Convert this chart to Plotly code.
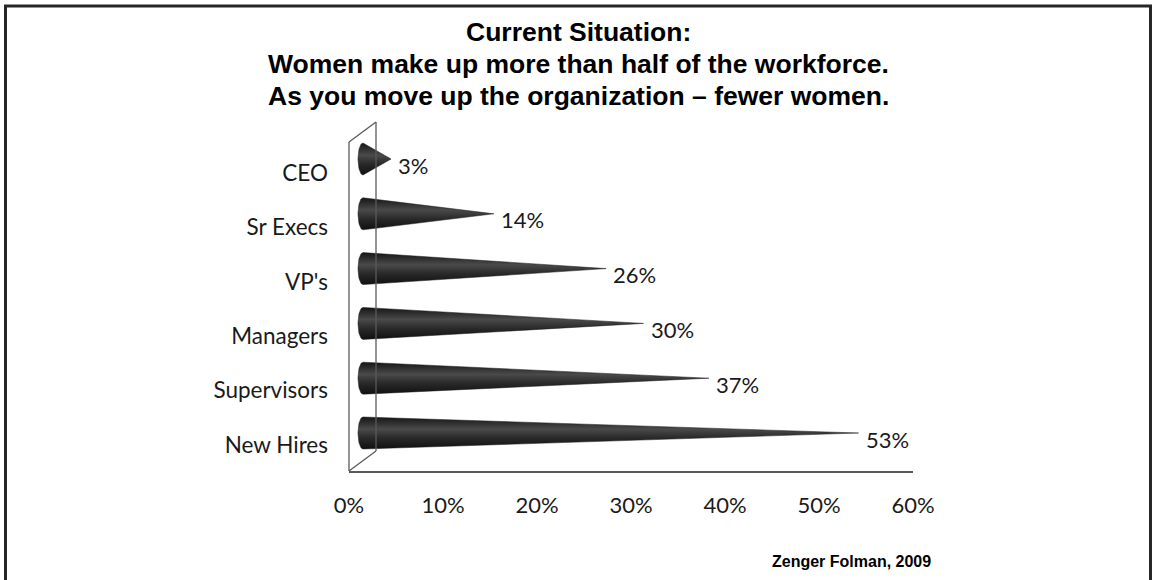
import numpy as np
import plotly.graph_objects as go

# ---------------- data ----------------
categories = ["New Hires", "Supervisors", "Managers", "VP's", "Sr Execs", "CEO"]
values = [53, 37, 30, 26, 14, 3]
x_ticks = [0, 10, 20, 30, 40, 50, 60]
x_tick_labels = ["0%", "10%", "20%", "30%", "40%", "50%", "60%"]
title_lines = [
    "Current Situation:",
    "Women make up more than half of the workforce.",
    "As you move up the organization \u2013 fewer women.",
]
source_text = "Zenger Folman, 2009"

# ---------------- layout geometry (pixels) ----------------
W, H = 1152, 580
PL, PR, PT, PB = 349, 913, 122, 471      # plot area
DX, DY = 27, 20                          # 3D depth offset


def px(x):
    return (x - PL) / (PR - PL)


def py(y):
    return (PB - y) / (PB - PT)


# cone axis (mid-depth): 0 at 363px, 9.35 px per unit
c0, cs = 363.0, 9.35
x2_range = [(PL - c0) / cs, (PR - c0) / cs]
# cone centres: index 0 at 433px, 54.8px per category
yc0, ycs = 433.0, 54.8
y2_range = [(yc0 - PB) / ycs, (yc0 - PT) / ycs]
# label axis (front plane): index 0 at 445px, 54.4 px per category
yl0, yls = 445.0, 54.4
y_range = [(yl0 - PB) / yls, (yl0 - PT) / yls]

half_h = 16 / ycs
rx = 5 / cs

fig = go.Figure()

# invisible trace to create category axis
fig.add_trace(go.Scatter(x=[0] * len(categories), y=categories, mode="markers",
                         marker=dict(opacity=0), hoverinfo="skip", showlegend=False))

t = np.linspace(0, np.pi, 30)
for i, (cat, v) in enumerate(zip(categories, values)):
    xs = [0, v, 0] + list(-rx * np.sin(t))
    ys = [i + half_h, i, i - half_h] + list(i - half_h * np.cos(t))
    fig.add_trace(go.Scatter(
        x=xs, y=ys, xaxis="x2", yaxis="y2", mode="lines",
        line=dict(width=0.5, color="#1a1a1a"),
        fill="toself",
        fillgradient=dict(type="vertical",
                          colorscale=[[0, "#101010"], [0.35, "#2a2a2a"],
                                      [0.62, "#4a4a4a"], [0.85, "#2a2a2a"], [1, "#151515"]]),
        hoverinfo="skip", showlegend=False))
    fig.add_annotation(x=v, y=i, xref="x2", yref="y2", text=f"{v}%",
                       showarrow=False, xanchor="left", yanchor="middle",
                       xshift=5, yshift=-6,
                       font=dict(family="Lato", size=22, color="#1a1a1a"))

shapes = []
wall_col = "#5a5a5a"
segs = [
    ((PL, PB), (PL, PT + DY)),
    ((PL, PT + DY), (PL + DX, PT)),
    ((PL + DX, PT), (PL + DX, PB - DY)),
    ((PL, PB), (PL + DX, PB - DY)),
]
for (a, b) in segs:
    shapes.append(dict(type="line", xref="paper", yref="paper",
                       x0=px(a[0]), y0=py(a[1]), x1=px(b[0]), y1=py(b[1]),
                       line=dict(color=wall_col, width=1.3)))

# outer frame (left, top, right)
fc = "#262626"
for (a, b) in [((5.5, 600), (5.5, 6)), ((4, 6), (1152, 6)), ((1150.5, 6), (1150.5, 600))]:
    shapes.append(dict(type="line", xref="paper", yref="paper",
                       x0=px(a[0]), y0=py(a[1]), x1=px(b[0]), y1=py(b[1]),
                       line=dict(color=fc, width=3)))

annotations = list(fig.layout.annotations)
for k, (line, yy) in enumerate(zip(title_lines, [32.5, 64.3, 96.0])):
    annotations.append(dict(x=px(578), y=py(yy), xref="paper", yref="paper",
                            text=f"<b>{line}</b>", showarrow=False,
                            xanchor="center", yanchor="middle",
                            font=dict(family="Arial, Liberation Sans", size=26.5, color="#000")))
annotations.append(dict(x=px(933), y=py(561), xref="paper", yref="paper",
                        text=f"<b>{source_text}</b>", showarrow=False,
                        xanchor="right", yanchor="middle",
                        font=dict(family="Arial, Liberation Sans", size=16, color="#000")))

fig.update_layout(
    width=W, height=H, autosize=False,
    margin=dict(l=PL, r=W - PR, t=PT, b=H - PB, pad=0),
    paper_bgcolor="white", plot_bgcolor="white",
    showlegend=False,
    xaxis=dict(range=[0, 60], tickmode="array", tickvals=x_ticks, ticktext=x_tick_labels,
               showgrid=False, zeroline=False, showline=True, linecolor="#5a5a5a", linewidth=1.5,
               ticks="", ticklabelstandoff=14,
               tickfont=dict(family="Lato", size=22, color="#1a1a1a"), fixedrange=True),
    yaxis=dict(type="category", categoryarray=categories, range=y_range,
               showgrid=False, zeroline=False, showline=False, ticks="",
               ticklabelstandoff=20,
               tickfont=dict(family="Lato", size=22.5, color="#1a1a1a"), fixedrange=True),
    xaxis2=dict(range=x2_range, overlaying="x", visible=False, fixedrange=True),
    yaxis2=dict(range=y2_range, overlaying="y", visible=False, fixedrange=True),
    shapes=shapes,
    annotations=annotations,
)

fig.write_html("out.html")
